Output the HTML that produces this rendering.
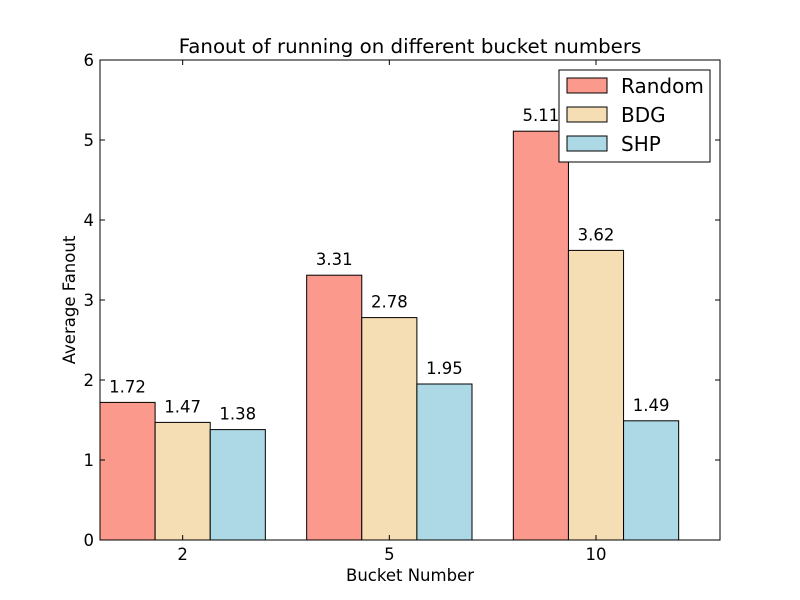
<!DOCTYPE html>
<html><head><meta charset="utf-8"><style>body{margin:0;background:#fff}svg{display:block}text{font-family:"DejaVu Sans","Liberation Sans",sans-serif}</style></head>
<body>
<svg id="chart" width="800" height="600" xmlns="http://www.w3.org/2000/svg">
<rect width="800" height="600" fill="#fff"/>
<text x="410" y="53" text-anchor="middle" font-size="19.8">Fanout of running on different bucket numbers</text>
<g id="plot"></g>
<text x="410" y="581" text-anchor="middle" font-size="16.5">Bucket Number</text>
<text transform="translate(75,300) rotate(-90)" text-anchor="middle" font-size="16.5">Average Fanout</text>
</svg>
<script>
const categories = ["2", "5", "10"];
const seriesNames = ["Random", "BDG", "SHP"];
const seriesColors = ["#fa998c", "#f5deb3", "#add8e6"];
const randomValues = [1.72, 3.31, 5.11];
const bdgValues = [1.47, 2.78, 3.62];
const shpValues = [1.38, 1.95, 1.49];
const yTicks = [0, 1, 2, 3, 4, 5, 6];

const NS = "http://www.w3.org/2000/svg";
const L = 100, R = 720, T = 60, B = 540;
const xMin = 0, xMax = 3, yMin = 0, yMax = 6, w = 0.8 / 3;
const xs = v => L + (v - xMin) / (xMax - xMin) * (R - L);
const ys = v => B - (v - yMin) / (yMax - yMin) * (B - T);
const g = document.getElementById("plot");
function mk(tag, attrs, parent) { const e = document.createElementNS(NS, tag); for (const k in attrs) e.setAttribute(k, attrs[k]); (parent || g).appendChild(e); return e; }

const all = [randomValues, bdgValues, shpValues];
all.forEach((vals, s) => {
  vals.forEach((v, i) => {
    const x0 = xs(i + s * w), x1 = xs(i + (s + 1) * w);
    const r = mk("rect", { x: x0, y: ys(v), width: x1 - x0, height: ys(0) - ys(v), fill: seriesColors[s], stroke: "#000", "stroke-width": 1 });
    
    
    const t = mk("text", { x: (x0 + x1) / 2, y: ys(v) - 10, "text-anchor": "middle", "font-size": 16.5 });
    t.textContent = v.toFixed(2);
    
    
  });
});

const frame = mk("rect", { x: L, y: T, width: R - L, height: B - T, fill: "none", stroke: "#000", "stroke-width": 1 });



yTicks.forEach(v => {
  const y = ys(v);
  mk("line", { x1: L, x2: L + 5, y1: y, y2: y, stroke: "#000" });
  mk("line", { x1: R, x2: R - 5, y1: y, y2: y, stroke: "#000" });
  const t = mk("text", { x: L - 6, y: y + 6, "text-anchor": "end", "font-size": 16.5 });
  t.textContent = v;
  
  
});
categories.forEach((c, i) => {
  const x = xs(i + 1.5 * w);
  mk("line", { x1: x, x2: x, y1: B, y2: B - 5, stroke: "#000" });
  mk("line", { x1: x, x2: x, y1: T, y2: T + 5, stroke: "#000" });
  const t = mk("text", { x: x, y: B + 20, "text-anchor": "middle", "font-size": 16.5 });
  t.textContent = c;
  
  
});

const lg = mk("g", {});


mk("rect", { x: 559, y: 70, width: 151, height: 92, fill: "#fff", stroke: "#000" }, lg);
seriesNames.forEach((n, s) => {
  const y = 78 + s * 29;
  const p = mk("rect", { x: 567, y: y, width: 40, height: 15, fill: seriesColors[s], stroke: "#000" }, lg);
  
  
  const t = mk("text", { x: 621, y: y + 15, "font-size": 20 }, lg);
  t.textContent = n;
  
  
});
</script>
</body></html>
